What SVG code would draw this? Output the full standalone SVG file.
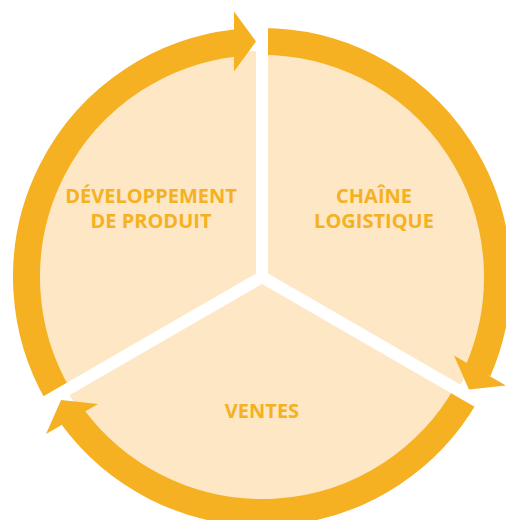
<svg xmlns="http://www.w3.org/2000/svg" width="506" height="520" viewBox="0 0 506 520">
  <style>
    .disc { fill: #FDE7C4; }
    .ring { fill: none; stroke: #F5B122; stroke-width: 27; stroke-linecap: butt; }
    .head { fill: #F5B122; }
    .divider { stroke: #FFFFFF; stroke-width: 12; stroke-linecap: round; }
    .label { font-family: "Open Sans", "Liberation Sans", sans-serif; font-weight: 700; font-size: 20px; fill: #F5B122; text-anchor: middle; }
  </style>

  <!-- pale disc behind the cycle -->
  <circle class="disc" cx="262" cy="277" r="226"/>

  <!-- cycle arrows: one arc per stage, each ending in an arrowhead -->
  <g id="connectors">
    <path class="ring" d="M58.05,394.75 A235.5,235.5 0 0 1 235.34,43.01"/>
    <polygon class="head" points="256,41.5 234,11.5 234,71.5"/>
    <path class="ring" d="M262,41.5 A235.5,235.5 0 0 1 477.97,370.91"/>
    <polygon class="head" points="468.95,389.55 505.93,385.5 453.97,355.5"/>
    <path class="ring" d="M465.95,394.75 A235.5,235.5 0 0 1 72.69,417.08"/>
    <polygon class="head" points="61.05,399.95 46.07,434 98.03,404"/>
  </g>

  <!-- white separators between the three sectors -->
  <g id="dividers">
    <line class="divider" x1="262" y1="277" x2="262" y2="4"/>
    <line class="divider" x1="262" y1="277" x2="495.8" y2="412"/>
    <line class="divider" x1="262" y1="277" x2="28.2" y2="412"/>
  </g>

  <g id="developpement-produit">
    <text class="label" x="151" y="203">DÉVELOPPEMENT</text>
    <text class="label" x="151" y="228">DE PRODUIT</text>
  </g>

  <g id="chaine-logistique">
    <text class="label" x="374" y="203">CHAÎNE</text>
    <text class="label" x="374" y="228">LOGISTIQUE</text>
  </g>

  <g id="ventes">
    <text class="label" x="262" y="418">VENTES</text>
  </g>
</svg>
